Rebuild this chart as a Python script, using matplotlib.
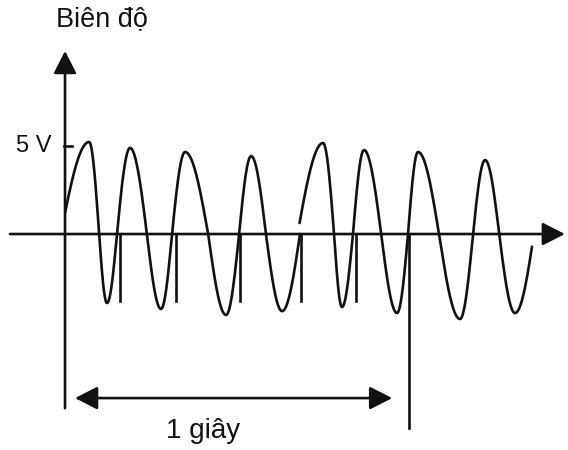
import numpy as np
import matplotlib
matplotlib.use("Agg")
import matplotlib.pyplot as plt

plt.rcParams['font.family'] = ['Liberation Sans', 'DejaVu Sans']

# ---- data (time in seconds, amplitude in volts) ----
# knots of the waveform: alternating zero crossings and extrema
wave1_t = [-0.012, 0.070, 0.099, 0.122, 0.151, 0.189, 0.238, 0.279, 0.311,
           0.349, 0.416, 0.468, 0.506, 0.541, 0.584, 0.631, 0.683]
wave1_v = [0.0, 5.23, 0.0, -3.92, 0.0, 4.89, 0.0, -4.26, 0.0,
           4.66, 0.0, -4.60, 0.0, 4.43, 0.0, -4.38, 0.0]
wave1_clip = (0.0, 0.683)

wave2_t = [0.676, 0.750, 0.782, 0.805, 0.837, 0.869, 0.919, 0.965, 0.997,
           1.026, 1.087, 1.148, 1.186, 1.221, 1.262, 1.308, 1.363]
wave2_v = [0.0, 5.17, 0.0, -4.15, 0.0, 4.77, 0.0, -4.49, 0.0,
           4.66, 0.0, -4.83, 0.0, 4.20, 0.0, -4.49, 0.0]
wave2_clip = (0.680, 1.358)

marker_t = [0.160, 0.323, 0.509, 0.686, 0.846]
marker_depth = -3.8
one_second = 1.0
one_second_depth = -11.0
yaxis_bottom = -9.9
tick_5v = 5.0

ylabel = "Biên độ"
tick_label = "5 V"
span_label = "1 giây"

# ---- helpers ----
def build(ts, vs, clip, n=40):
    xs, ys = [], []
    for i in range(len(ts) - 1):
        t0, t1, v0, v1 = ts[i], ts[i + 1], vs[i], vs[i + 1]
        u = np.linspace(0, 1, n)
        if abs(v0) < 1e-9:      # crossing -> extremum
            y = v1 * np.sin(np.pi / 2 * u)
        else:                    # extremum -> crossing
            y = v0 * np.cos(np.pi / 2 * u)
        x = t0 + (t1 - t0) * u
        xs.append(x); ys.append(y)
    x = np.concatenate(xs); y = np.concatenate(ys)
    m = (x >= clip[0]) & (x <= clip[1])
    return x[m], y[m]

W, H = 568, 450
fig = plt.figure(figsize=(W / 100, H / 100), dpi=100)
ax = fig.add_axes([0, 0, 1, 1])
ax.set_xlim(-0.189, 1.462)
ax.set_ylim(-12.27, 13.295)
ax.axis('off')

col = '#111111'
lw = 1.9

for ts, vs, cl in [(wave1_t, wave1_v, wave1_clip), (wave2_t, wave2_v, wave2_clip)]:
    x, y = build(ts, vs, cl)
    ax.plot(x, y, color=col, lw=lw, solid_capstyle='round')

# marker lines at zero crossings
for t in marker_t:
    ax.plot([t, t], [0, marker_depth], color=col, lw=lw)
ax.plot([one_second, one_second], [0, one_second_depth], color=col, lw=lw)

# axes with arrows
aprops = dict(arrowstyle='-|>,head_length=0.98,head_width=0.5', lw=lw,
              color=col, mutation_scale=14, shrinkA=0, shrinkB=0)
ax.annotate('', xy=(1.453, 0), xytext=(-0.160, 0), arrowprops=aprops)
ax.annotate('', xy=(0, 10.4), xytext=(0, yaxis_bottom), arrowprops=aprops)

# 5 V tick
ax.plot([-0.003, 0.02], [tick_5v, tick_5v], color=col, lw=lw)
ax.text(-0.040, tick_5v, tick_label, ha='right', va='center', fontsize=17, color=col)

# y label
ax.text(-0.025, 12.2, ylabel, ha='left', va='center', fontsize=19.5, color=col)

# 1 second span arrow
sprops = dict(arrowstyle='<|-|>,head_length=0.98,head_width=0.5', lw=lw,
              color=col, mutation_scale=14, shrinkA=0, shrinkB=0)
ax.annotate('', xy=(0.951, -9.32), xytext=(0.029, -9.32), arrowprops=sprops)
ax.text(0.401, -11.2, span_label, ha='center', va='center', fontsize=20, color=col)

fig.savefig('out.png', dpi=100, facecolor='white')
